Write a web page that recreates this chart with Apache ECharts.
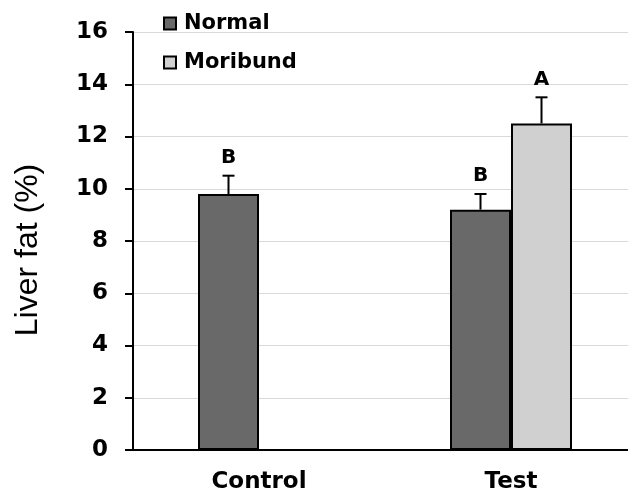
<!DOCTYPE html>
<html>
<head>
<meta charset="utf-8">
<script src="https://cdn.jsdelivr.net/npm/echarts@6/dist/echarts.min.js"></script>
<style>html,body{margin:0;padding:0;background:#fff}#c{width:628px;height:496px}</style>
</head>
<body>
<div id="c"></div>
<script>
var categories = ['Control', 'Test'];
var seriesNames = ['Normal', 'Moribund'];
var normalMeans = [9.8, 9.2];
var normalErrors = [0.7, 0.6];
var normalLetters = ['B', 'B'];
var moribundMeans = [null, 12.5];
var moribundErrors = [null, 1.0];
var moribundLetters = [null, 'A'];
var yMin = 0, yMax = 16, yInterval = 2;
var yTitle = 'Liver fat (%)';

var FONT = '"Liberation Sans", Arial, sans-serif';
var WFONT = '"DejaVu Sans", sans-serif';
var BAR_W = 61;
var colors = ['#696969', '#d0d0d0'];

function errData(means, errs) {
  var out = [];
  for (var i = 0; i < means.length; i++) {
    if (means[i] == null) continue;
    out.push([i, means[i], errs[i]]);
  }
  return out;
}

function makeErr(offset, letters) {
  return function (params, api) {
    var cat = api.value(0), mean = api.value(1), err = api.value(2);
    var letter = letters[cat] || '';
    var p0 = api.coord([cat, mean]);
    var p1 = api.coord([cat, mean + err]);
    var x = p0[0] + offset;
    return {
      type: 'group',
      children: [
        { type: 'line', shape: { x1: x, y1: p0[1], x2: x, y2: p1[1] }, style: { stroke: '#000', lineWidth: 2 } },
        { type: 'line', shape: { x1: x - 6, y1: p1[1], x2: x + 6, y2: p1[1] }, style: { stroke: '#000', lineWidth: 2 } },
        { type: 'text', x: x, y: p1[1] - 8, style: { text: letter, fill: '#000', font: 'bold 20px ' + WFONT, textAlign: 'center', textVerticalAlign: 'bottom' } }
      ]
    };
  };
}

var chart = echarts.init(document.getElementById('c'), null, { renderer: 'canvas' });
chart.setOption({
  animation: false,
  backgroundColor: '#fff',
  grid: { left: 133, top: 32, width: 504, height: 418, containLabel: false, outerBoundsMode: 'none' },
  legend: {
    data: seriesNames,
    orient: 'vertical',
    left: 158,
    top: 8,
    icon: 'rect',
    itemWidth: 12,
    itemHeight: 12,
    itemGap: 18,
    textStyle: { fontFamily: WFONT, fontWeight: 'bold', fontSize: 21, color: '#000', padding: [0, 0, 0, 3] }
  },
  graphic: [{
    type: 'text', x: 28, y: 250, rotation: Math.PI / 2,
    style: { text: yTitle, font: '32px ' + FONT, fill: '#000', textAlign: 'center', textVerticalAlign: 'middle' }
  }],
  xAxis: {
    type: 'category',
    data: categories,
    axisLine: { lineStyle: { color: '#000', width: 2 } },
    axisTick: { show: false },
    axisLabel: { color: '#000', fontFamily: WFONT, fontWeight: 'bold', fontSize: 23, margin: 21 }
  },
  yAxis: {
    type: 'value',
    min: yMin, max: yMax, interval: yInterval,
    axisLine: { show: true, lineStyle: { color: '#000', width: 2 } },
    axisTick: { show: true, length: 8, lineStyle: { color: '#000', width: 2 } },
    axisLabel: { color: '#000', fontFamily: WFONT, fontWeight: 'bold', fontSize: 23, margin: 25 },
    splitLine: { show: true, lineStyle: { color: '#d9d9d9', width: 1 } }
  },
  series: [
    {
      name: seriesNames[0], type: 'bar', data: normalMeans, barWidth: BAR_W, barGap: '0%',
      itemStyle: { color: colors[0], borderColor: '#000', borderWidth: 2 }
    },
    {
      name: seriesNames[1], type: 'bar', data: moribundMeans, barWidth: BAR_W, barGap: '0%',
      itemStyle: { color: colors[1], borderColor: '#000', borderWidth: 2 }
    },
    {
      type: 'custom', name: 'errN', data: errData(normalMeans, normalErrors),
      renderItem: makeErr(-BAR_W / 2, normalLetters), z: 5, silent: true
    },
    {
      type: 'custom', name: 'errM', data: errData(moribundMeans, moribundErrors),
      renderItem: makeErr(BAR_W / 2, moribundLetters), z: 5, silent: true
    }
  ]
});
</script>
</body>
</html>
